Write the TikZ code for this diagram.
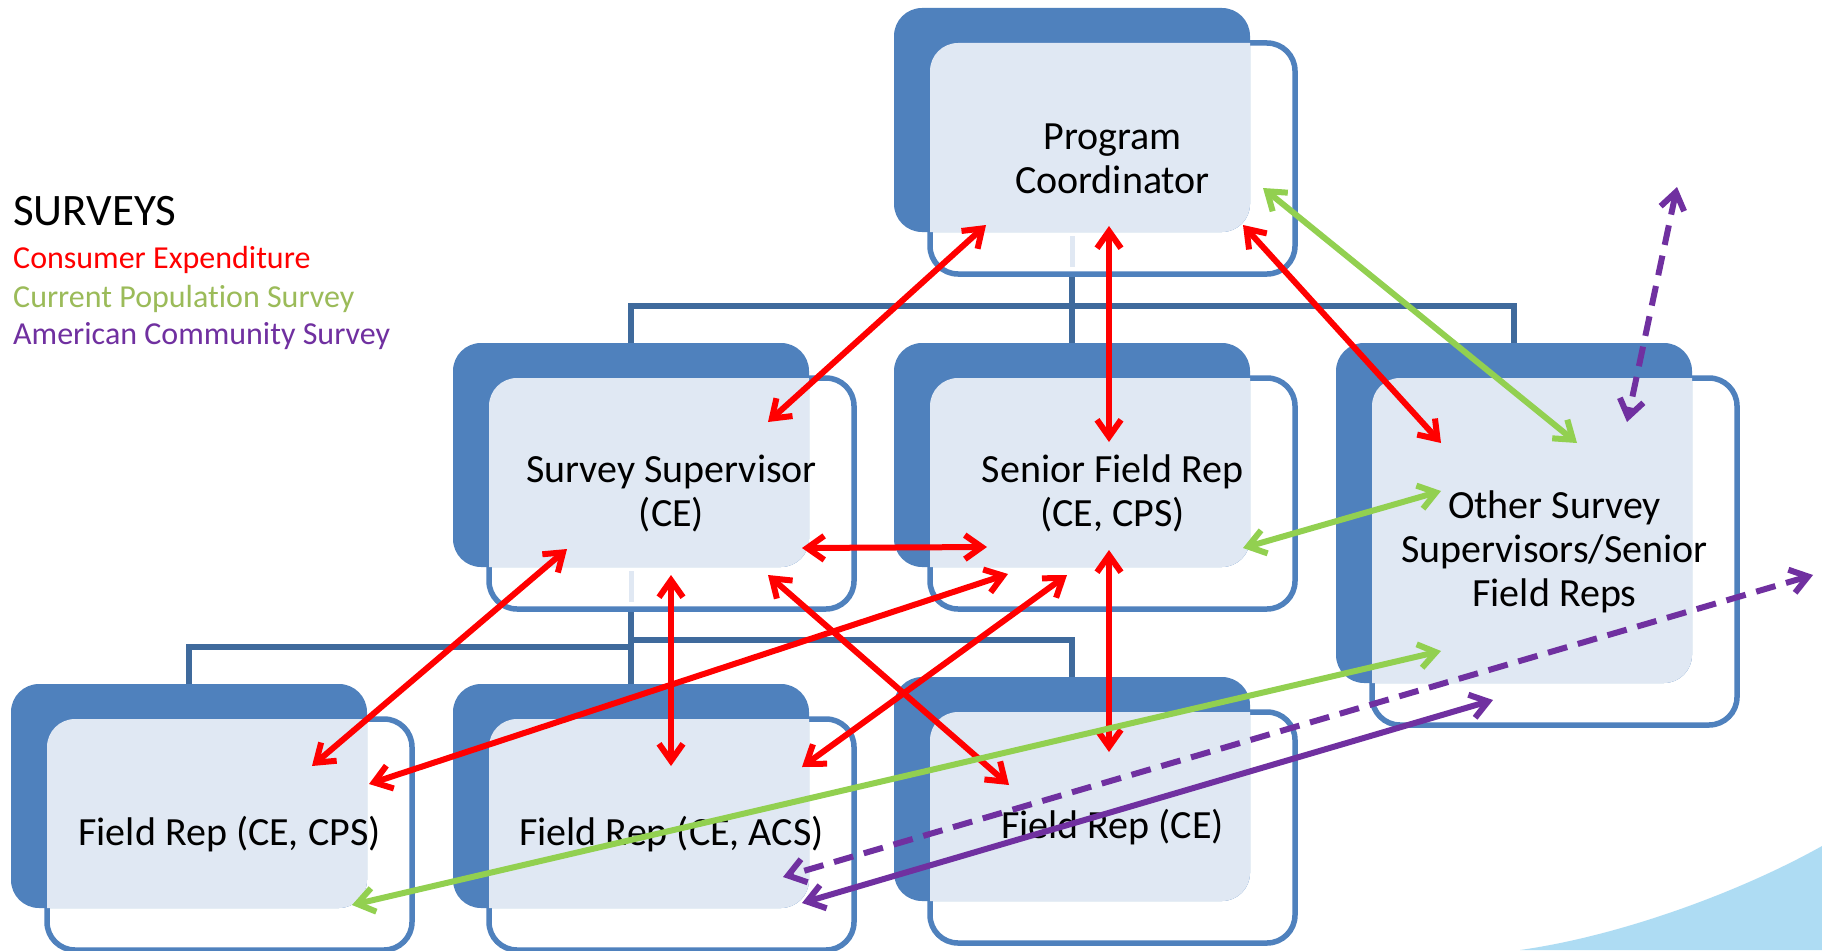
\documentclass[tikz,border=0pt]{standalone}
\usepackage{fontspec}
\setmainfont{Carlito}[Ligatures=NoCommon]
\usetikzlibrary{arrows.meta,backgrounds}
\definecolor{boxblue}{HTML}{4F81BD}
\definecolor{connblue}{HTML}{3F6A9C}
\definecolor{lightfill}{HTML}{E0E8F3}
\definecolor{cered}{HTML}{FF0000}
\definecolor{cpsgreen}{HTML}{92D050}
\definecolor{cpslegend}{HTML}{9BBB59}
\definecolor{acspurple}{HTML}{7030A0}
\definecolor{swooshblue}{HTML}{AEDCF3}
\tikzset{
  frontbox/.style={draw=boxblue, line width=5.5pt, fill=white, rounded corners=28pt, minimum width=365pt, inner sep=0pt, outer sep=0pt},
  backbox/.style={fill=boxblue, rounded corners=28pt, minimum width=356pt, inner sep=0pt, outer sep=0pt},
  boxtext/.style={font=\fontsize{40}{44}\selectfont, align=center, text=black, inner sep=0pt},
  conn/.style={draw=connblue, line width=5.5pt},
  strip/.style={draw=lightfill, line width=5pt},
  duplex/.style={line width=6pt, {Straight Barb[length=17pt,width=24pt]}-{Straight Barb[length=17pt,width=24pt]}},
  celink/.style={duplex, draw=cered},
  cpslink/.style={duplex, draw=cpsgreen},
  acslink/.style={duplex, draw=acspurple},
  acsdash/.style={acslink, dash pattern=on 20pt off 11pt},
  legendhead/.style={anchor=base west, inner sep=0pt, font=\fontsize{45}{50}\selectfont},
  legenditem/.style={anchor=base west, inner sep=0pt, font=\fontsize{32}{36}\selectfont},
}
% name, back cx, back cy, back h, front cx, front cy, front h, text
\newcommand\orgbox[8]{%
  \node[frontbox, minimum height=#7pt] (#1f) at (#5,#6) {};
  \node[backbox, minimum height=#4pt] (#1b) at (#2,#3) {};
  \begin{scope}
    \clip[rounded corners=28pt] (#1f.south west) rectangle (#1f.north east);
    \fill[lightfill, rounded corners=28pt] (#1b.south west) rectangle (#1b.north east);
  \end{scope}
  \node[boxtext] (#1) at (#5,#6) {#8};
}
\begin{document}
\begin{tikzpicture}[x=1pt,y=-1pt]
\useasboundingbox (0,0) rectangle (1822,950);

% swoosh
\fill[swooshblue] (1520,950) .. controls (1620,936) and (1740,892) .. (1822,846) -- (1822,950) -- cycle;

% boxes
\orgbox{pc}{1072}{120}{224}{1112.5}{158.5}{231}{Program\\Coordinator}
\orgbox{ss}{631}{455}{224}{671.5}{493.5}{231}{Survey Supervisor\\(CE)}
\orgbox{sf}{1072}{455}{224}{1112.5}{493.5}{231}{Senior Field Rep\\(CE, CPS)}
\orgbox{ot}{1514}{513}{340}{1554.5}{551.5}{347}{Other Survey\\Supervisors/Senior\\Field Reps}
\orgbox{fa}{189}{796}{224}{229.5}{834.5}{231}{Field Rep (CE, CPS)}
\orgbox{fb}{631}{796}{224}{671.5}{834.5}{231}{Field Rep (CE, ACS)}
\orgbox{fc}{1072}{789}{224}{1112.5}{827.5}{231}{Field Rep (CE)}

% faint strips where connectors show through
\draw[strip, shorten <=4pt, shorten >=7pt] (pcb.south) -- (pcb.south |- pcf.south);
\draw[strip, shorten <=4pt, shorten >=7pt] (ssb.south) -- (ssb.south |- ssf.south);

% connectors (behind boxes)
\begin{scope}[on background layer]
  \fill[white] (0,0) rectangle (1822,950);
  \draw[conn] (pcb.south) -- (sfb.north);
  \draw[conn] (ssb.north) -- ++(0,-37) -| (otb.north);
  \draw[conn] (ssb.south) -- (fbb.north);
  \draw[conn] (ssb.south) -- ++(0,80) -| (fab.north);
  \draw[conn] (ssb.south) -- ++(0,73) -| (fcb.north);
\end{scope}

% legend
\node[legendhead] (lhead) at (13,225) {SURVEYS};
\node[legenditem, text=cered] (lce) at (13,268) {Consumer Expenditure};
\node[legenditem, text=cpslegend] (lcps) at (13,307) {Current Population Survey};
\node[legenditem, text=acspurple] (lacs) at (13,344) {American Community Survey};

% arrow end points
\coordinate (r1a) at (986,225);  \coordinate (r1b) at (768,422);
\coordinate (r2a) at (1109,226); \coordinate (r2b) at (1109,442);
\coordinate (r3a) at (1243,225); \coordinate (r3b) at (1441,443);
\coordinate (r4a) at (802,548);  \coordinate (r4b) at (987,547);
\coordinate (r5a) at (567,549);  \coordinate (r5b) at (312,766);
\coordinate (r6a) at (671,575);  \coordinate (r6b) at (671,766);
\coordinate (r7a) at (768,575);  \coordinate (r7b) at (1009,785);
\coordinate (r8a) at (1008,574); \coordinate (r8b) at (369,784);
\coordinate (r9a) at (1067,575); \coordinate (r9b) at (802,767);
\coordinate (r10a) at (1109,550); \coordinate (r10b) at (1109,752);
\coordinate (g1a) at (1263,188); \coordinate (g1b) at (1577,443);
\coordinate (g2a) at (1243,548); \coordinate (g2b) at (1441,491);
\coordinate (g3a) at (352,905);  \coordinate (g3b) at (1441,651);
\coordinate (p1a) at (1677,187); \coordinate (p1b) at (1627,422);
\coordinate (p2a) at (1813,575); \coordinate (p2b) at (783,877);
\coordinate (p3a) at (1493,700); \coordinate (p3b) at (802,903);

% CE links
\draw[celink] (r1a) -- (r1b);
\draw[celink] (r2a) -- (r2b);
\draw[celink] (r3a) -- (r3b);
\draw[celink] (r4a) -- (r4b);
\draw[celink] (r5a) -- (r5b);
\draw[celink] (r6a) -- (r6b);
\draw[celink] (r7a) -- (r7b);
\draw[celink] (r8a) -- (r8b);
\draw[celink] (r9a) -- (r9b);
\draw[celink] (r10a) -- (r10b);
% CPS links
\draw[cpslink] (g1a) -- (g1b);
\draw[cpslink] (g2a) -- (g2b);
\draw[cpslink] (g3a) -- (g3b);
% ACS links
\draw[acsdash] (p1a) -- (p1b);
\draw[acsdash] (p2a) -- (p2b);
\draw[acslink] (p3a) -- (p3b);
\end{tikzpicture}
\end{document}
